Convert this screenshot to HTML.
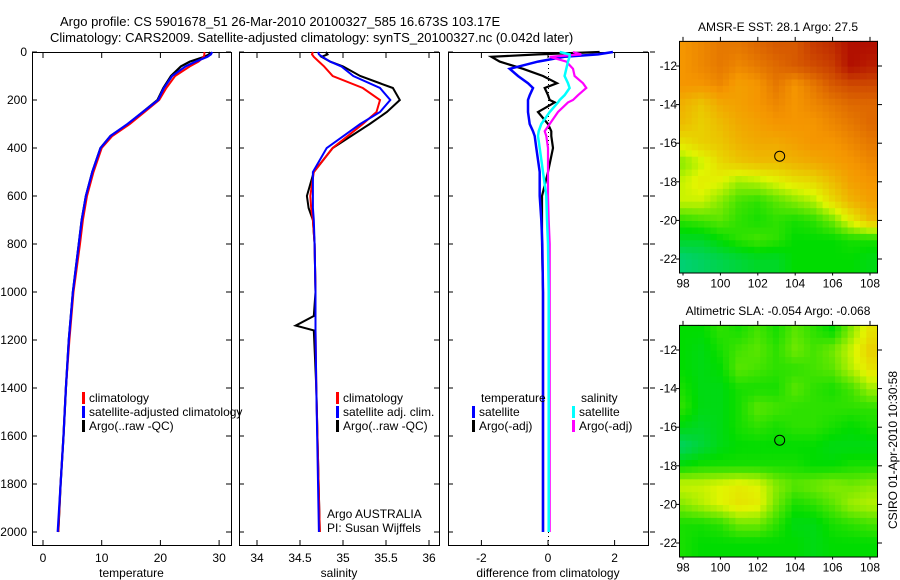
<!DOCTYPE html>
<html><head><meta charset="utf-8"><style>
body{margin:0;background:#fff;}
svg{display:block;font-family:"Liberation Sans",sans-serif;}
</style></head><body>
<svg id="s" width="900" height="580" xmlns="http://www.w3.org/2000/svg"></svg>
<script>
// ---- data ----
const depthT=[0,10,20,40,60,100,150,200,250,300,350,400,500,600,700,800,1000,1200,1400,1600,1800,2000];
const argoT=[28.5,28.3,27.5,25.0,23.5,21.8,20.5,19.5,17.0,14.5,11.5,9.8,8.4,7.3,6.6,6.1,5.1,4.4,3.9,3.5,3.0,2.6];
const climT=[27.5,27.5,27.4,26.5,25.0,22.5,21.0,19.8,17.3,14.8,11.8,10.0,8.6,7.5,6.8,6.3,5.2,4.5,3.9,3.5,3.0,2.6];
const satT=[28.8,28.6,28.0,26.0,24.3,22.0,20.6,19.6,17.0,14.4,11.5,9.8,8.4,7.3,6.6,6.1,5.1,4.4,3.9,3.5,3.0,2.5];
const depthS=[0,10,20,40,60,100,150,200,250,300,400,500,600,650,700,800,1000,1100,1140,1160,1400,2000];
const argoS=[34.8,34.82,34.75,34.85,35.0,35.2,35.58,35.66,35.51,35.31,34.88,34.66,34.58,34.6,34.65,34.67,34.68,34.66,34.45,34.66,34.69,34.73];
const climS=[34.65,34.64,34.66,34.72,34.78,34.88,35.23,35.43,35.39,35.23,34.88,34.66,34.62,34.63,34.65,34.67,34.68,34.68,34.68,34.68,34.69,34.73];
const satS=[34.71,34.72,34.76,34.85,34.98,35.12,35.43,35.55,35.43,35.2,34.81,34.65,34.65,34.65,34.66,34.67,34.68,34.68,34.68,34.68,34.69,34.72];
const depthD=[0,10,20,40,70,100,130,150,180,200,210,250,300,330,350,400,500,600,700,800,1000,1500,2000];
const dTsat=[1.95,1.5,0.5,-0.3,-1.15,-0.9,-0.6,-0.45,-0.55,-0.6,-0.6,-0.6,-0.55,-0.45,-0.4,-0.35,-0.25,-0.25,-0.2,-0.17,-0.15,-0.15,-0.15];
const dTargo=[1.55,-0.3,-1.7,-1.45,-0.75,-0.15,0.27,-0.1,0,0.05,0.2,-0.3,0,0.1,0.1,0.15,0,-0.18,-0.18,-0.18,-0.15,-0.15,-0.15];
const dSsat=[0.35,0.65,0.65,0.6,0.55,0.5,0.6,0.65,0.5,0.35,0.3,0.05,-0.2,-0.28,-0.3,-0.25,-0.15,-0.05,-0.03,0,0.02,0.02,0.02];
const dSargo=[0.75,1.0,0.05,0.55,0.75,0.8,1.05,1.15,0.9,0.75,0.6,0.3,0.05,-0.1,-0.05,0,0,0,0.02,0.05,0.05,0.05,0.05];
const mapLats=[-11,-12,-13,-14,-15,-16,-17,-18,-19,-20,-21,-22];
const sstGrid=[
[3.0,3.1,3.2,3.2,3.3,3.4,3.4,3.6,3.7,3.9,3.9],
[3.0,3.1,3.2,3.1,3.2,3.3,3.4,3.5,3.6,3.9,3.8],
[3.0,3.0,3.1,2.9,3.0,3.2,3.0,3.2,3.4,3.5,3.5],
[2.7,2.5,2.8,2.9,3.0,3.1,3.0,3.1,3.2,3.3,3.3],
[2.6,2.4,2.6,2.8,2.9,3.0,3.0,3.0,3.1,3.2,3.3],
[2.2,2.4,2.5,2.7,2.8,2.8,2.9,3.0,3.0,3.1,3.2],
[1.6,1.9,2.3,2.5,2.6,2.6,2.7,2.8,2.9,3.0,3.1],
[1.9,2.1,2.0,1.7,1.8,2.0,2.2,2.3,2.6,2.9,3.0],
[1.9,1.9,1.6,1.3,1.2,1.4,1.6,1.8,2.3,2.7,2.9],
[1.2,1.3,1.4,1.2,1.1,1.2,1.1,1.2,1.5,2.1,2.6],
[0.8,0.8,1.0,1.2,1.3,1.2,1.0,1.0,1.0,1.1,1.1],
[0.4,0.5,0.6,0.7,0.8,0.8,1.0,1.0,1.0,1.0,0.9]];
const slaGrid=[
[1.0,1.0,1.2,1.1,1.3,1.1,1.4,1.2,1.0,1.6,2.2],
[1.0,0.9,1.1,1.3,1.4,1.2,1.5,1.3,1.5,1.9,2.4],
[1.0,0.9,1.0,1.4,1.3,1.2,1.2,1.3,1.4,1.8,2.2],
[1.1,0.9,0.9,1.1,1.1,1.1,1.4,1.2,1.1,1.3,1.7],
[1.2,0.9,0.9,1.1,1.4,1.3,1.2,1.2,1.2,1.2,1.2],
[0.9,0.8,0.9,1.1,1.2,1.1,1.2,1.2,1.1,1.0,1.1],
[0.5,0.7,0.9,1.0,1.0,1.0,1.0,1.0,0.9,0.9,0.9],
[1.0,1.1,1.1,1.1,1.1,1.1,1.1,1.0,1.0,1.1,1.1],
[1.9,1.9,2.0,2.1,2.0,1.6,1.4,1.5,1.6,1.5,1.6],
[1.6,1.8,2.0,2.2,2.1,1.5,1.1,1.2,1.4,1.7,1.8],
[1.1,1.1,1.2,1.5,1.5,1.2,0.9,0.9,1.1,1.2,1.3],
[1.1,1.0,1.0,1.0,1.0,1.0,1.0,0.9,1.0,1.0,1.0]];
const mapLons=[98,99,100,101,102,103,104,105,106,107,108];
const depthTicks=[0,200,400,600,800,1000,1200,1400,1600,1800,2000];
const tTicks=[0,10,20,30];
const sTicks=[34,34.5,35,35.5,36];
const dTicks=[-2,0,2];
const latTicks=[-12,-14,-16,-18,-20,-22];
const lonTicks=[98,100,102,104,106,108];

const S=document.getElementById('s');const NS='http://www.w3.org/2000/svg';
function el(t,a,p){const e=document.createElementNS(NS,t);for(const k in a)e.setAttribute(k,a[k]);(p||S).appendChild(e);return e;}
function txt(x,y,s,anchor,size,p){const e=el('text',{x:x,y:y,'font-size':size||12,'text-anchor':anchor||'start',fill:'#000'},p);e.textContent=s;return e;}
const Y=d=>52+d*0.24;
const panels=[
 {x0:32,x1:231,f:v=>43+v*5.87,ticks:tTicks,name:'temperature-panel',label:'temperature'},
 {x0:239,x1:439,f:v=>257+(v-34)*86,ticks:sTicks,name:'salinity-panel',label:'salinity'},
 {x0:448,x1:648,f:v=>548+v*33.3,ticks:dTicks,name:'difference-panel',label:'difference from climatology'}];
function line(xs,ds,f,color,name,w){
 const pts=xs.map((v,i)=>f(v).toFixed(1)+','+Y(ds[i]).toFixed(1)).join(' ');
 const p=el('polyline',{points:pts,fill:'none',stroke:color,'stroke-width':w||2});
 
 
}
panels.forEach((P,i)=>{
 const g=el('g',{});
 
 
 el('rect',{x:P.x0+.5,y:52.5,width:P.x1-P.x0,height:493,fill:'none',stroke:'#000','stroke-width':1},g);
 P.ticks.forEach(t=>{const x=P.f(t);el('line',{x1:x,x2:x,y1:545,y2:540,stroke:'#000'},g);el('line',{x1:x,x2:x,y1:53,y2:58,stroke:'#000'},g);
  const lb=txt(x,562,String(t),'middle',12,g);});
 depthTicks.forEach(d=>{el('line',{x1:P.x0,x2:P.x0+5,y1:Y(d),y2:Y(d),stroke:'#000'},g);el('line',{x1:P.x1-5,x2:P.x1,y1:Y(d),y2:Y(d),stroke:'#000'},g);});
 const xl=txt((P.x0+P.x1)/2,577,P.label,'middle',12,g);
});
depthTicks.forEach(d=>{const t=txt(27,Y(d)+4,String(d),'end',12);
 el('line',{x1:650,x2:655,y1:Y(d),y2:Y(d),stroke:'#000'});});
// series
line(argoT,depthT,panels[0].f,'#000','temp-argo',2.2);
line(climT,depthT,panels[0].f,'#f00','temp-climatology',2);
line(satT,depthT,panels[0].f,'#00f','temp-satellite',2.2);
line(argoS,depthS,panels[1].f,'#000','sal-argo',2);
line(climS,depthS,panels[1].f,'#f00','sal-climatology',2);
line(satS,depthS,panels[1].f,'#00f','sal-satellite',2);
el('line',{x1:548.5,x2:548.5,y1:52,y2:545,stroke:'#000','stroke-dasharray':'1,3'});
line(dTargo,depthD,panels[2].f,'#000','dtemp-argo',2.2);
line(dTsat,depthD,panels[2].f,'#00f','dtemp-satellite',2.5);
line(dSargo,depthD,panels[2].f,'#f0f','dsal-argo',2.2);
line(dSsat,depthD,panels[2].f,'#0ff','dsal-satellite',2.5);
// legends
function leg(x,y,c,s,name){const g=el('g',{});
 if(c)el('rect',{x:x,y:y-10,width:3,height:12,fill:c},g);txt(x+7,y,s,'start',12,g);}
leg(82,402,'#f00','climatology','legend-climatology');
leg(82,416,'#00f','satellite-adjusted climatology','legend-satellite');
leg(82,430,'#000','Argo(..raw -QC)','legend-argo');
leg(336,402,'#f00','climatology','legend-climatology-sal');
leg(336,416,'#00f','satellite adj. clim.','legend-satellite-sal');
leg(336,430,'#000','Argo(..raw -QC)','legend-argo-sal');
leg(474,402,null,'temperature','legend-temperature-head');
leg(472,416,'#00f','satellite','legend-dtemp-sat');
leg(472,430,'#000','Argo(-adj)','legend-dtemp-argo');
leg(574,402,null,'salinity','legend-salinity-head');
leg(572,416,'#0ff','satellite','legend-dsal-sat');
leg(572,430,'#f0f','Argo(-adj)','legend-dsal-argo');
txt(327,518,'Argo AUSTRALIA','start',12);
txt(327,532,'PI: Susan Wijffels','start',12);
const t1=txt(60,26,'Argo profile: CS 5901678_51 26-Mar-2010 20100327_585 16.673S 103.17E','start',13);

const t2=txt(50,42,'Climatology: CARS2009. Satellite-adjusted climatology: synTS_20100327.nc (0.042d later)','start',13);

// maps
const stops=[[0,200,190],[0,220,0],[225,245,0],[245,150,0],[170,0,0]];
function col(v){v=Math.max(0,Math.min(3.999,v));const i=Math.floor(v),f=v-i,a=stops[i],b=stops[i+1];
 return 'rgb('+a.map((c,k)=>Math.round(c+(b[k]-c)*f)).join(',')+')';}
function sample(grid,lon,lat){
 // bilinear interpolation in grid index space
 let c=lon-mapLons[0], r=mapLats[0]-lat;
 c=Math.max(0,Math.min(mapLons.length-1,c)); r=Math.max(0,Math.min(mapLats.length-1,r));
 const c0=Math.min(Math.floor(c),mapLons.length-2), r0=Math.min(Math.floor(r),mapLats.length-2);
 const fc=c-c0, fr=r-r0;
 return grid[r0][c0]*(1-fc)*(1-fr)+grid[r0][c0+1]*fc*(1-fr)+grid[r0+1][c0]*(1-fc)*fr+grid[r0+1][c0+1]*fc*fr;
}
function map(top,grid,title,name){
 const X=lon=>683+(lon-98)*18.7, YY=lat=>top+25+(-12-lat)*19.3;
 const g=el('g',{});
 const x0=679,x1=877,y0=YY(-10.7),y1=YY(-22.7);
 const step=1/3;
 for(let lat=-10.7;lat>-22.7;lat-=step){
  for(let lon=97.8;lon<108.4;lon+=step){
   const v=sample(grid,lon+step/2,lat-step/2);
   const xa=X(lon), xb=Math.min(x1,X(lon+step)), ya=YY(lat), yb=Math.min(y1,YY(lat-step));
   const rc=el('rect',{x:xa.toFixed(1),y:ya.toFixed(1),width:(xb-xa+0.6).toFixed(1),height:(yb-ya+0.6).toFixed(1),fill:col(v)},g);
   
   
  }
 }
 el('rect',{x:x0+.5,y:y0+.5,width:x1-x0,height:y1-y0,fill:'none',stroke:'#000'},g);
 el('rect',{x:x1+1,y:y0-2,width:8,height:y1-y0+4,fill:'#fff'},g);
 el('line',{x1:x1+.5,x2:x1+.5,y1:y0,y2:y1,stroke:'#000'},g);
 latTicks.forEach(l=>{el('line',{x1:x1,x2:x1+5,y1:YY(l),y2:YY(l),stroke:'#000'},g);el('line',{x1:x0-3,x2:x0,y1:YY(l),y2:YY(l),stroke:'#000'},g);txt(677,YY(l)+4,String(l),'end',12,g);});
 lonTicks.forEach(l=>{el('line',{x1:X(l),x2:X(l),y1:y0-4,y2:y0,stroke:'#000'},g);el('line',{x1:X(l),x2:X(l),y1:y1,y2:y1+3,stroke:'#000'},g);txt(X(l),y1+15,String(l),'middle',12,g);});
 el('circle',{cx:X(103.17),cy:YY(-16.673),r:5,fill:'none',stroke:'#000','stroke-width':1},g);
 txt(778,y0-10,title,'middle',12,g);
}
map(41,sstGrid,'AMSR-E SST: 28.1 Argo: 27.5','sst-map');
map(325,slaGrid,'Altimetric SLA: -0.054 Argo: -0.068','sla-map');
const v=txt(0,0,'CSIRO 01-Apr-2010 10:30:58','middle',12);
v.setAttribute('transform','translate(897,450) rotate(-90)');

</script>
</body></html>
